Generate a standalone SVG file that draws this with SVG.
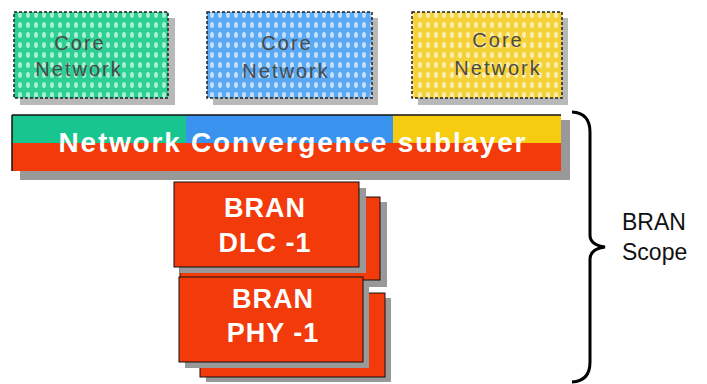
<svg xmlns="http://www.w3.org/2000/svg" width="707" height="384" viewBox="0 0 707 384">
<style>
.core{font-family:"Liberation Sans",Arial,sans-serif;font-size:20px;fill:#4a4a4a;text-anchor:middle;letter-spacing:2px}
.wt{font-family:"Liberation Sans",Arial,sans-serif;font-weight:bold;fill:#ffffff;text-anchor:middle}
.br{font-size:27px;letter-spacing:1px}
.scope{font-family:"Liberation Sans",Arial,sans-serif;font-size:23px;fill:#111;}
.cbox{stroke:#222;stroke-width:1.5;stroke-dasharray:3 2}
.sh{fill:#b8b8b8}
.red{fill:#f23a0a;stroke:#111;stroke-width:1}
.gray{fill:#999}
</style>
<defs>
<pattern id="pg" width="8" height="10" patternUnits="userSpaceOnUse"><rect width="8" height="10" fill="#2ecf95"/><ellipse cx="4" cy="5" rx="2" ry="3" fill="#a8f0d0"/></pattern>
<pattern id="pb" width="8" height="10" patternUnits="userSpaceOnUse"><rect width="8" height="10" fill="#5aa9f2"/><ellipse cx="4" cy="5" rx="2" ry="3" fill="#c2e0fb"/></pattern>
<pattern id="py" width="8" height="10" patternUnits="userSpaceOnUse"><rect width="8" height="10" fill="#f6d23a"/><ellipse cx="4" cy="5" rx="2" ry="3" fill="#fbeeb0"/></pattern>
</defs>
<rect width="707" height="384" fill="#ffffff"/>

<g id="core1">
<rect class="sh" x="20" y="18" width="155" height="87"/>
<rect class="cbox" x="14" y="12" width="154" height="86" fill="url(#pg)"/>
<text class="core" x="80" y="50">Core</text>
<text class="core" x="79" y="76">Network</text>
</g>
<g id="core2">
<rect class="sh" x="213" y="18" width="165" height="87"/>
<rect class="cbox" x="207" y="12" width="165" height="86" fill="url(#pb)"/>
<text class="core" x="287" y="50">Core</text>
<text class="core" x="286" y="78">Network</text>
</g>
<g id="core3">
<rect class="sh" x="418" y="18" width="150" height="87"/>
<rect class="cbox" x="412" y="12" width="150" height="86" fill="url(#py)"/>
<text class="core" x="498" y="47">Core</text>
<text class="core" x="498" y="75">Network</text>
</g>

<g id="ncs">
<rect class="gray" x="20" y="120" width="550" height="60"/>
<rect x="12" y="115" width="549" height="56" fill="#f23a0a"/>
<rect x="12" y="115" width="174" height="28" fill="#18c58e"/>
<rect x="186" y="115" width="207" height="28" fill="#3a93ee"/>
<rect x="393" y="115" width="168" height="28" fill="#f6cc10"/>
<line x1="12" y1="115" x2="561" y2="115" stroke="#111" stroke-width="1.5"/>
<line x1="12" y1="115" x2="12" y2="171" stroke="#111" stroke-width="1.5"/>
<text class="wt" x="292" y="152" font-size="28" textLength="467" lengthAdjust="spacing">Network Convergence sublayer</text>
</g>

<g id="dlc">
<rect class="gray" x="186" y="202" width="201" height="85"/>
<rect class="red" x="180" y="197" width="200" height="83"/>
<rect class="gray" x="180" y="188" width="186" height="85"/>
<rect class="red" x="174" y="182" width="185" height="85"/>
<text class="wt br" x="265" y="217">BRAN</text>
<text class="wt br" x="265" y="252">DLC -1</text>
</g>

<g id="phy">
<rect class="gray" x="206" y="298" width="185" height="84"/>
<rect class="red" x="200" y="293" width="185" height="84"/>
<rect class="gray" x="185" y="283" width="184" height="85"/>
<rect class="red" x="179" y="277" width="184" height="85"/>
<text class="wt br" x="273" y="308">BRAN</text>
<text class="wt br" x="273" y="342">PHY -1</text>
</g>

<g id="connectors">
<path d="M572,112 Q590,113 590,132 L590,235 Q590,245 605,247 Q590,249 590,259 L590,362 Q590,381 572,382" fill="none" stroke="#000" stroke-width="3"/>
</g>

<g id="scope">
<text class="scope" x="622" y="230">BRAN</text>
<text class="scope" x="622" y="260">Scope</text>
</g>
</svg>
